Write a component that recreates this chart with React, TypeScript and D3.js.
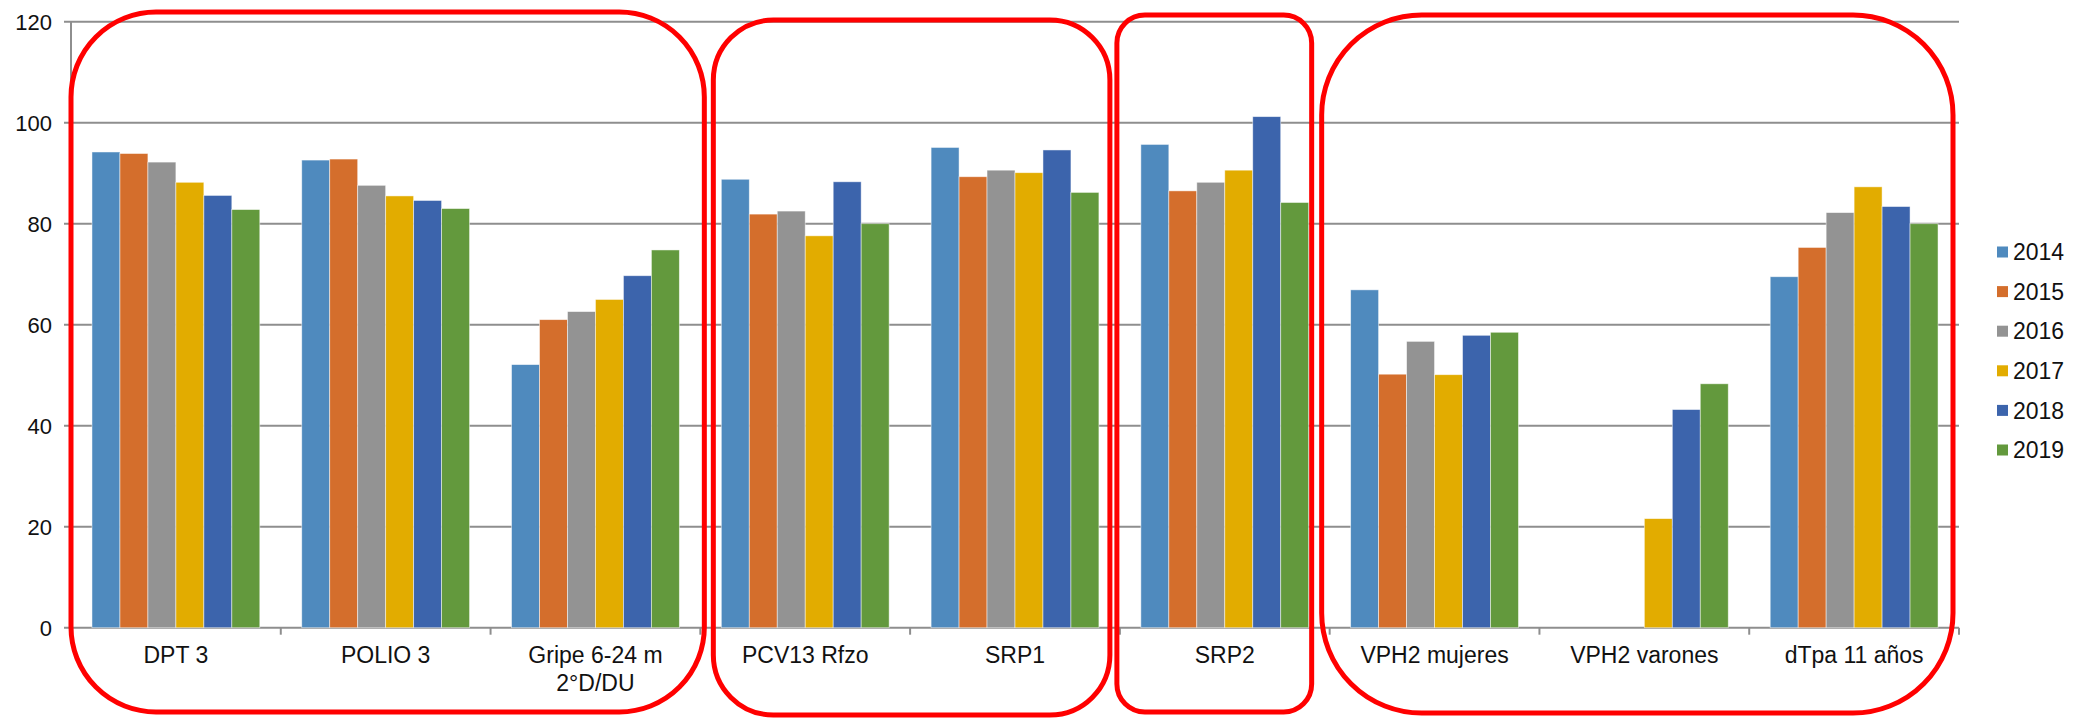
import React from "react";
import * as d3 from "d3";

const categories = [
  "DPT 3",
  "POLIO 3",
  "Gripe 6-24 m\n2°D/DU",
  "PCV13 Rfzo",
  "SRP1",
  "SRP2",
  "VPH2 mujeres",
  "VPH2 varones",
  "dTpa 11 años",
];
const years = ["2014", "2015", "2016", "2017", "2018", "2019"];
const v2014 = [94.2, 92.6, 52.1, 88.8, 95.1, 95.7, 66.9, null, 69.5];
const v2015 = [93.9, 92.8, 61.0, 81.9, 89.3, 86.5, 50.2, null, 75.3];
const v2016 = [92.2, 87.6, 62.6, 82.5, 90.6, 88.2, 56.7, null, 82.2];
const v2017 = [88.2, 85.5, 65.0, 77.6, 90.1, 90.6, 50.1, 21.6, 87.3];
const v2018 = [85.6, 84.6, 69.7, 88.3, 94.6, 101.2, 57.9, 43.2, 83.4];
const v2019 = [82.8, 83.0, 74.8, 80.0, 86.2, 84.2, 58.5, 48.3, 80.0];
const seriesValues = [v2014, v2015, v2016, v2017, v2018, v2019];
const colors = ["#4F8ABE", "#D46E2C", "#939393", "#E2AC00", "#3C64AC", "#63993D"];
const yTicks = [0, 20, 40, 60, 80, 100, 120];

const W = 2074;
const H = 718;
const left = 71;
const right = 1959;
const top = 21.7;
const bottom = 627.7;
const FONT = "'Liberation Sans', Arial, Helvetica, sans-serif";

export default function App() {
  const x0 = d3.scaleBand<string>().domain(categories).range([left, right]).paddingInner(0).paddingOuter(0);
  const x1 = d3.scaleBand<string>().domain(years).range([0, x0.bandwidth()]).paddingInner(0).paddingOuter(0.75);
  const y = d3.scaleLinear().domain([0, 120]).range([bottom, top]);
  const step = x0.bandwidth();

  // annotation boxes derived from the band scale
  const boxes = [
    { x1: x0(categories[0])!, x2: x0(categories[2])! + step + 4, t: 12, b: 712, r: 85 },
    { x1: x0(categories[3])! + 13, x2: x0(categories[4])! + step - 10, t: 20, b: 715, r: 60 },
    { x1: x0(categories[5])! - 3, x2: x0(categories[5])! + step - 18, t: 15, b: 712, r: 28 },
    { x1: x0(categories[6])! - 8, x2: x0(categories[8])! + step - 6, t: 15, b: 713, r: 100 },
  ];

  return (
    <svg width={W} height={H} style={{ position: "absolute", left: 0, top: 0, background: "#fff" }} fontFamily={FONT}>
      <rect x={0} y={0} width={W} height={H} fill="#fff" />
      {/* gridlines */}
      {yTicks.map((t) => (
        <g key={t}>
          <line x1={left - 7} x2={right} y1={y(t)} y2={y(t)} stroke="#8E8E8E" strokeWidth={2} />
          <text x={52} y={y(t)} dy="0.36em" textAnchor="end" fontSize={22} fill="#111">
            {t}
          </text>
        </g>
      ))}
      {/* y axis */}
      <line x1={left} x2={left} y1={top} y2={bottom} stroke="#8E8E8E" strokeWidth={2} />
      {/* x ticks */}
      {categories.map((c) => (
        <line key={c} x1={x0(c)! + step} x2={x0(c)! + step} y1={bottom} y2={bottom + 7} stroke="#8E8E8E" strokeWidth={2} />
      ))}
      <line x1={left} x2={left} y1={bottom} y2={bottom + 7} stroke="#8E8E8E" strokeWidth={2} />
      {/* bars */}
      {categories.map((c, ci) => (
        <g key={c} transform={`translate(${x0(c)},0)`}>
          {years.map((yr, si) => {
            const v = seriesValues[si][ci];
            if (v === null || v === undefined) return null;
            return (
              <rect
                key={yr}
                x={x1(yr)}
                y={y(v)}
                width={x1.bandwidth()}
                height={y(0) - y(v)}
                fill={colors[si]}
                stroke="#ffffff"
                strokeOpacity={0.6}
                strokeWidth={0.8}
              />
            );
          })}
        </g>
      ))}
      {/* x labels */}
      {categories.map((c) => {
        const lines = c.split("\n");
        return (
          <text key={c} x={x0(c)! + step / 2} y={663} textAnchor="middle" fontSize={23} fill="#111">
            {lines.map((l, i) => (
              <tspan key={i} x={x0(c)! + step / 2} dy={i === 0 ? 0 : 28}>
                {l}
              </tspan>
            ))}
          </text>
        );
      })}
      {/* legend */}
      {years.map((yr, i) => (
        <g key={yr} transform={`translate(1997,${252 + i * 39.6})`}>
          <rect x={0} y={-5.5} width={11} height={11} fill={colors[i]} />
          <text x={16} y={0} dy="0.36em" fontSize={23} fill="#111">
            {yr}
          </text>
        </g>
      ))}
      {/* annotation boxes */}
      {boxes.map((b, i) => (
        <rect
          key={i}
          x={b.x1}
          y={b.t}
          width={b.x2 - b.x1}
          height={b.b - b.t}
          rx={b.r}
          ry={b.r}
          fill="none"
          stroke="#FF0000"
          strokeWidth={5}
        />
      ))}
    </svg>
  );
}
